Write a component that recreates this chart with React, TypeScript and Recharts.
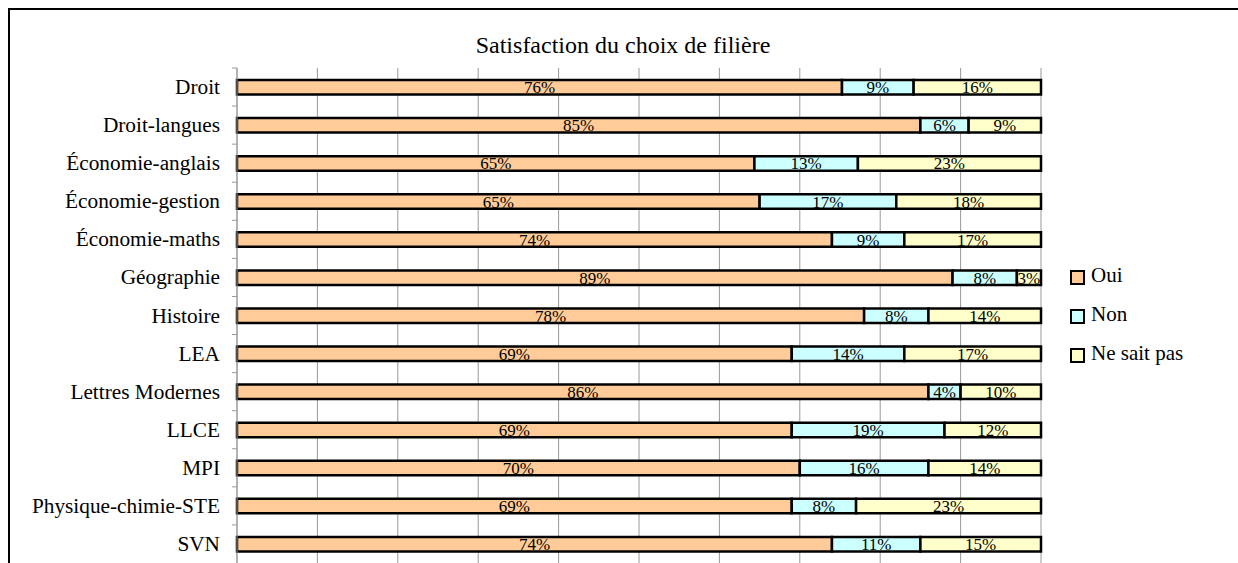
import { Bar, BarChart, CartesianGrid, LabelList, XAxis, YAxis } from "recharts"

const categories = [
  "Droit",
  "Droit-langues",
  "Économie-anglais",
  "Économie-gestion",
  "Économie-maths",
  "Géographie",
  "Histoire",
  "LEA",
  "Lettres Modernes",
  "LLCE",
  "MPI",
  "Physique-chimie-STE",
  "SVN",
]
const oui = [76, 85, 65, 65, 74, 89, 78, 69, 86, 69, 70, 69, 74]
const non = [9, 6, 13, 17, 9, 8, 8, 14, 4, 19, 16, 8, 11]
const nsp = [16, 9, 23, 18, 17, 3, 14, 17, 10, 12, 14, 23, 15]
const xTicks = [0, 0.1, 0.2, 0.3, 0.4, 0.5, 0.6, 0.7, 0.8, 0.9, 1]

const seriesNames = ["Oui", "Non", "Ne sait pas"]
const colors = ["#FFCC99", "#CCFFFF", "#FFFFCC"]

const data = categories.map((name, i) => ({ name, oui: oui[i], non: non[i], nsp: nsp[i] }))

const FONT = '"Liberation Serif", "Times New Roman", serif'
const W = 1238
const H = 563
const TOP = 68
const LEFT = 237
const RIGHT = 1041
const BAND = (H - TOP) / categories.length

const CategoryTick = (props: any) => {
  const { y, payload } = props
  return (
    <g>
      <line x1={LEFT - 5} x2={LEFT} y1={y - BAND / 2} y2={y - BAND / 2} stroke="#999" />
      <text x={LEFT - 17} y={y} dy="0.33em" textAnchor="end" fontSize={21.3} fontFamily={FONT} fill="#000">
        {payload.value}
      </text>
    </g>
  )
}

const pct = (v: any) => `${v}%`

export default function App() {
  return (
    <div style={{ position: "fixed", left: 0, top: 0, width: W, height: H, overflow: "hidden", background: "#fff" }}>
      <div
        style={{
          position: "absolute",
          left: 8,
          top: 8,
          width: W,
          height: H,
          borderTop: "2px solid #000",
          borderLeft: "2px solid #000",
        }}
      />
      <div
        style={{
          position: "absolute",
          left: 423,
          top: 33,
          width: 400,
          textAlign: "center",
          fontFamily: FONT,
          fontSize: 24,
          lineHeight: "24px",
          whiteSpace: "nowrap",
        }}
      >
        Satisfaction du choix de filière
      </div>
      <div style={{ position: "absolute", left: 0, top: 0 }}>
        <BarChart
          width={W}
          height={H}
          data={data}
          layout="vertical"
          stackOffset="expand"
          barSize={14.5}
          margin={{ top: TOP, right: W - RIGHT, bottom: 0, left: 0 }}
        >
          <CartesianGrid horizontal={false} stroke="#999" />
          <XAxis type="number" domain={[0, 1]} ticks={xTicks} hide />
          <YAxis
            type="category"
            dataKey="name"
            width={LEFT}
            axisLine={{ stroke: "#999" }}
            tickLine={false}
            tick={<CategoryTick />}
            interval={0}
          />
          {(["oui", "non", "nsp"] as const).map((key, i) => (
            <Bar
              key={key}
              dataKey={key}
              name={seriesNames[i]}
              stackId="a"
              fill={colors[i]}
              stroke="#000"
              strokeWidth={2.5}
              isAnimationActive={false}
            >
              <LabelList
                dataKey={key}
                position="center"
                formatter={pct}
                fill="#000"
                fontSize={17}
                fontFamily={FONT}
              />
            </Bar>
          ))}
        </BarChart>
      </div>
      {seriesNames.map((s, i) => (
        <div
          key={s}
          style={{
            position: "absolute",
            left: 1070,
            top: 265 + i * 39,
            height: 21,
            fontFamily: FONT,
            fontSize: 21,
            lineHeight: "21px",
            whiteSpace: "nowrap",
          }}
        >
          <div
            style={{
              position: "absolute",
              left: 0,
              top: 5,
              width: 15,
              height: 15,
              boxSizing: "border-box",
              border: "2.5px solid #000",
              background: colors[i],
            }}
          />
          <span style={{ position: "absolute", left: 21, top: 0 }}>{s}</span>
        </div>
      ))}
    </div>
  )
}
